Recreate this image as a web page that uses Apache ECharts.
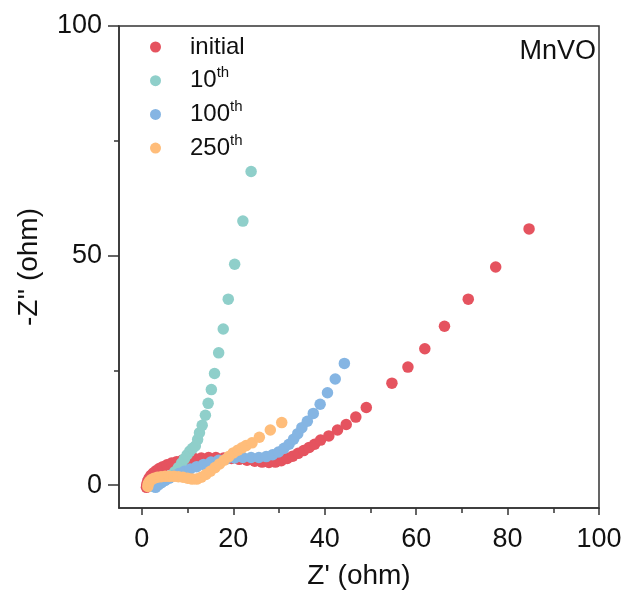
<!DOCTYPE html>
<html>
<head>
<meta charset="utf-8">
<script src="https://cdn.jsdelivr.net/npm/echarts@6/dist/echarts.min.js"></script>
<style>html,body{margin:0;padding:0;background:#fff;}#chart{width:626px;height:594px;}</style>
</head>
<body>
<div id="chart"></div>
<script>
// ---- data (Z', -Z'') ----
const seriesNames = ['initial', '10th', '100th', '250th'];
const initialData = [
  [1.0,-0.5],[1.1,0.2],[1.3,0.9],[1.6,1.5],[2.0,2.1],[2.5,2.6],[3.1,3.1],[3.8,3.6],[4.6,4.0],[5.5,4.4],
  [6.5,4.8],[7.6,5.1],[8.8,5.4],[10.1,5.6],[11.5,5.8],[13.0,5.9],[14.6,6.0],[16.2,6.0],[17.9,5.9],[19.6,5.8],
  [21.3,5.6],[23.0,5.4],[24.7,5.2],[26.3,5.0],[27.8,4.9],[29.2,5.0],[30.5,5.3],[31.8,5.8],[33.0,6.3],[34.2,6.9],
  [35.4,7.5],[36.6,8.2],[37.8,8.9],[39.1,9.8],[40.9,10.7],[42.8,12.0],[44.7,13.2],[46.8,14.8],[49.1,16.9],
  [54.7,22.2],[58.2,25.7],[61.9,29.7],[66.2,34.6],[71.4,40.5],[77.4,47.5],[84.7,55.8]
];
const cycle10Data = [
  [2.5,-0.3],[3.0,0.2],[3.7,0.6],[4.5,1.0],[5.4,1.5],[6.3,2.1],[7.2,2.9],[8.0,3.8],[8.7,4.8],[9.3,5.7],
  [9.9,6.6],[10.5,7.4],[11.1,8.0],[11.7,8.5],[12.2,9.9],[12.6,11.4],[13.2,13.0],[13.9,15.2],[14.5,17.8],
  [15.2,20.8],[15.9,24.3],[16.8,28.8],[17.8,34.0],[18.9,40.5],[20.3,48.1],[22.1,57.5],[23.9,68.3]
];
const cycle100Data = [
  [3.0,-0.5],[3.6,0.0],[4.3,0.5],[5.1,1.0],[6.0,1.5],[7.0,2.0],[8.1,2.5],[9.3,3.0],[10.6,3.5],[12.0,4.0],
  [13.5,4.5],[15.1,5.0],[16.8,5.4],[18.5,5.7],[20.3,5.9],[22.1,6.0],[23.9,6.0],[25.6,6.0],[27.2,6.2],[28.6,6.6],
  [29.9,7.2],[31.1,8.0],[32.2,8.9],[33.2,10.0],[34.1,11.2],[35.0,12.5],[36.2,13.9],[37.5,15.6],[39.0,17.6],
  [40.6,20.1],[42.3,23.1],[44.3,26.5]
];
const cycle250Data = [
  [1.3,-0.3],[1.4,0.3],[1.7,0.8],[2.1,1.2],[2.7,1.5],[3.4,1.7],[4.2,1.8],[5.1,1.9],[6.0,1.9],[7.0,1.9],
  [8.0,1.8],[9.0,1.7],[10.0,1.5],[11.0,1.3],[12.0,1.3],[13.0,1.7],[14.0,2.3],[15.0,3.0],[16.0,3.8],[17.0,4.6],
  [18.0,5.4],[19.0,6.2],[20.0,7.0],[21.0,7.6],[21.9,8.1],[22.8,8.6],[24.1,9.2],[25.7,10.4],[28.1,12.0],[30.6,13.6]
];
const seriesColors = ['#e5535f', '#8fcfca', '#85b5e3', '#ffbd7a'];
const xLabelValues = [0, 20, 40, 60, 80, 100];
const xMinorTicks = [10, 30, 50, 70, 90];
const yLabelValues = [0, 50, 100];
const yMinorTicks = [25, 75];

const FONT = "'Liberation Sans', Arial, sans-serif";
const AXIS_COLOR = '#333';
const chart = echarts.init(document.getElementById('chart'), null, {renderer: 'canvas'});

function legendFmt(name) {
  const m = name.match(/^(\d+)(th)$/);
  if (m) return '{s|}{a|' + m[1] + '}{b|' + m[2] + '}';
  return '{s|}{a|' + name + '}';
}

const allData = [initialData, cycle10Data, cycle100Data, cycle250Data];

const option = {
  backgroundColor: '#fff',
  animation: false,
  title: {
    text: 'MnVO', right: 25, top: 33,
    textStyle: {fontFamily: FONT, fontSize: 27, fontWeight: 'normal', color: '#111'}
  },
  legend: {
    data: seriesNames.map(n => ({name: n, icon: 'circle'})),
    orient: 'vertical', left: 150, top: 35, padding: 0,
    itemWidth: 11, itemHeight: 11, itemGap: 6.7,
    formatter: legendFmt,
    textStyle: {
      fontFamily: FONT, color: '#111',
      rich: {
        s: {width: 24, lineHeight: 30},
        a: {fontFamily: FONT, fontSize: 24, lineHeight: 30, color: '#111'},
        b: {fontFamily: FONT, fontSize: 15, lineHeight: 14, verticalAlign: 'top', color: '#111'}
      }
    }
  },
  grid: {
    left: 119, right: 27, top: 26, bottom: 86,
    show: true, borderColor: AXIS_COLOR, borderWidth: 1.5,
    outerBoundsMode: 'none'
  },
  xAxis: [{
    type: 'value', min: -5, max: 100, position: 'bottom',
    name: "Z' (ohm)", nameLocation: 'middle', nameGap: 54,
    nameTextStyle: {fontFamily: FONT, fontSize: 28, color: '#111'},
    axisLine: {show: true, onZero: false, lineStyle: {color: AXIS_COLOR, width: 1.5}},
    axisTick: {show: true, inside: false, length: 7, customValues: xLabelValues, lineStyle: {color: AXIS_COLOR, width: 1.5}},
    axisLabel: {customValues: xLabelValues, margin: 18, fontFamily: FONT, fontSize: 27, color: '#111'},
    splitLine: {show: false}
  }, {
    type: 'value', min: -5, max: 100, position: 'bottom', offset: 0,
    axisLine: {show: false, onZero: false},
    axisTick: {show: true, length: 5, customValues: xMinorTicks, lineStyle: {color: AXIS_COLOR, width: 1.5}},
    axisLabel: {show: false},
    splitLine: {show: false}
  }],
  yAxis: [{
    type: 'value', min: -5, max: 100, position: 'left',
    name: "-Z'' (ohm)", nameLocation: 'middle', nameGap: 76, nameRotate: 90,
    nameTextStyle: {fontFamily: FONT, fontSize: 28, color: '#111'},
    axisLine: {show: true, onZero: false, lineStyle: {color: AXIS_COLOR, width: 1.5}},
    axisTick: {show: true, length: 11, customValues: yLabelValues, lineStyle: {color: AXIS_COLOR, width: 1.5}},
    axisLabel: {customValues: yLabelValues, margin: 17, fontFamily: FONT, fontSize: 27, color: '#111'},
    splitLine: {show: false}
  }, {
    type: 'value', min: -5, max: 100, position: 'left', offset: 0,
    axisLine: {show: false, onZero: false},
    axisTick: {show: true, length: 5, customValues: yMinorTicks, lineStyle: {color: AXIS_COLOR, width: 1.5}},
    axisLabel: {show: false},
    splitLine: {show: false}
  }],
  series: seriesNames.map((n, i) => ({
    name: n, type: 'scatter', xAxisIndex: 0, yAxisIndex: 0,
    data: allData[i], symbol: 'circle', symbolSize: 11.5,
    itemStyle: {color: seriesColors[i], opacity: 1},
    emphasis: {disabled: true}
  }))
};
chart.setOption(option);
</script>
</body>
</html>
